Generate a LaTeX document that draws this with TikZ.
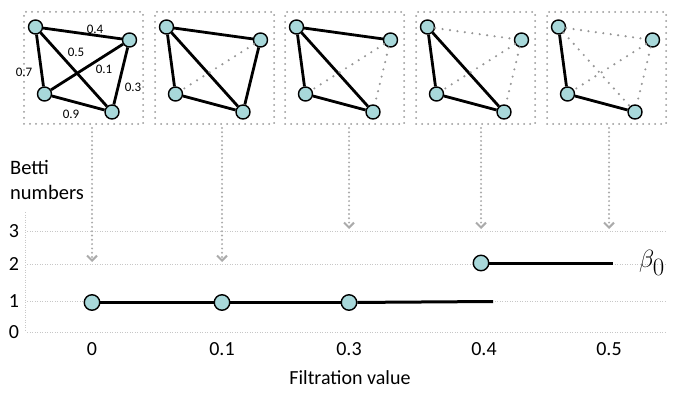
\documentclass[tikz,border=0pt]{standalone}
\usepackage{fontspec}
\setmainfont{Carlito}
\usetikzlibrary{arrows.meta}
\definecolor{nodefill}{RGB}{168,216,218}
\definecolor{dotgrey}{RGB}{150,150,150}
\begin{document}
\begin{tikzpicture}[x=1pt,y=-1pt,
  vtx/.style={circle,draw=black,line width=1.4pt,fill=nodefill,minimum size=14pt,inner sep=0pt},
  bvtx/.style={vtx,minimum size=15.5pt},
  edgeS/.style={line width=2.8pt,black},
  edgeD/.style={line width=2.4pt,dotgrey,line cap=round,dash pattern=on 0pt off 7.5pt},
  frame/.style={draw=dotgrey,line width=2pt,line cap=round,dash pattern=on 0pt off 6pt,minimum width=119pt,minimum height=112pt,inner sep=0pt},
  drop/.style={draw=dotgrey!80,line width=2.2pt,line cap=round,dash pattern=on 0pt off 4.3pt,-{Straight Barb[length=5pt,width=10pt,line width=2pt]}},
  gridln/.style={draw=black!22,line width=0.7pt,dash pattern=on 1pt off 1.5pt},
  lbl/.style={font=\fontsize{20}{24}\selectfont,inner sep=0pt},
  elbl/.style={font=\fontsize{13}{15}\selectfont,inner sep=0pt},
  dataln/.style={line width=3pt,black},
]
\useasboundingbox (0,0) rectangle (676,395);

% panels
\foreach \i/\lx/\sab/\sac/\sad/\sbc/\sbd/\scd in {
 1/24/edgeS/edgeS/edgeS/edgeS/edgeS/edgeS,
 2/155/edgeS/edgeS/edgeS/edgeD/edgeS/edgeS,
 3/285/edgeS/edgeS/edgeS/edgeD/edgeD/edgeS,
 4/416/edgeD/edgeS/edgeS/edgeD/edgeD/edgeS,
 5/547/edgeD/edgeS/edgeD/edgeD/edgeD/edgeS}{
  \node[frame] (f\i) at (\lx+59.5,68) {};
  \node[vtx] (a\i) at (\lx+11.5,27) {};
  \node[vtx] (b\i) at (\lx+105.5,40) {};
  \node[vtx] (c\i) at (\lx+20.5,94) {};
  \node[vtx] (d\i) at (\lx+88,112) {};
  \draw[\sab] (a\i) -- (b\i);
  \draw[\sac] (a\i) -- (c\i);
  \draw[\sad] (a\i) -- (d\i);
  \draw[\sbc] (b\i) -- (c\i);
  \draw[\sbd] (b\i) -- (d\i);
  \draw[\scd] (c\i) -- (d\i);
}

% edge weights
\node[elbl] (w04) at (95,29) {0.4};
\node[elbl] (w05) at (76,52) {0.5};
\node[elbl] (w01) at (104,69) {0.1};
\node[elbl] (w07) at (24,72) {0.7};
\node[elbl] (w03) at (133,87) {0.3};
\node[elbl] (w09) at (71,114) {0.9};

% grid
\coordinate (v0) at (25,332);
\coordinate (v3) at (25,212);
\draw[gridln] (v3) -- (v0);
\foreach \k/\yy in {0/332,1/301,2/264,3/231}{
  \coordinate (gl\k) at (27,\yy);
  \coordinate (gr\k) at (666,\yy);
  \draw[gridln] (gl\k) -- (gr\k);
  \node[lbl] (yl\k) at (14,\yy) {\k};
}

% drop arrows
\foreach \i/\xx/\ty in {1/92/262,2/222/262,3/349/229,4/481/229,5/609/229}{
  \coordinate (s\i) at (\xx,128);
  \coordinate (t\i) at (\xx,\ty);
  \draw[drop] (s\i) -- (t\i);
}

% betti data
\node[bvtx] (g0) at (92,302.5) {};
\node[bvtx] (g1) at (222,302.5) {};
\node[bvtx] (g2) at (349,302.5) {};
\coordinate (e1) at (493,301.5);
\node[bvtx] (g3) at (481,263) {};
\coordinate (e2) at (613,263);
\draw[dataln] (g0) -- (g1);
\draw[dataln] (g1) -- (g2);
\draw[dataln] (g2) -- (e1);
\draw[dataln] (g3) -- (e2);
\node[inner sep=0pt,font=\fontsize{36}{42}\selectfont] (beta) at (652,263) {$\beta_0$};

% x labels
\foreach \i/\xx/\tx in {1/92/0,2/222/0.1,3/349/0.3,4/484/0.4,5/609/0.5}{
  \node[lbl] (xl\i) at (\xx,349) {\tx};
}
\node[lbl] (xtitle) at (350,378) {Filtration value};
\node[lbl,align=left,anchor=north west,font=\fontsize{20.5}{25}\selectfont] (ytitle) at (10,160) {Betti\\numbers};
\end{tikzpicture}
\end{document}
